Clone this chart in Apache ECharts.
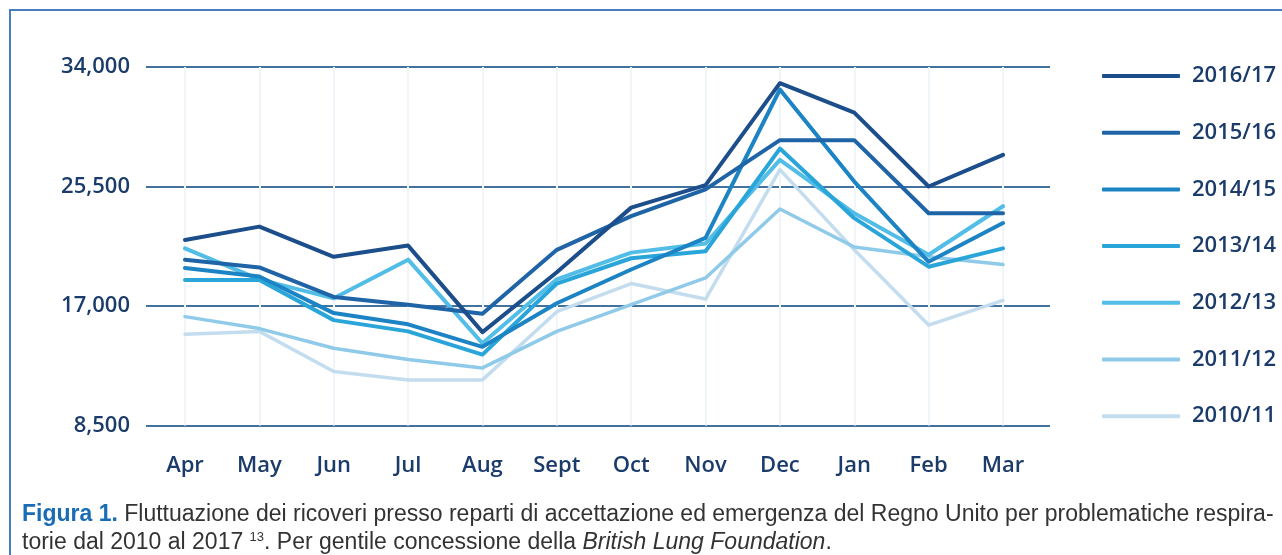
<!DOCTYPE html>
<html>
<head>
<meta charset="utf-8">
<script src="https://cdn.jsdelivr.net/npm/echarts@6/dist/echarts.min.js"></script>
<style>
html,body{margin:0;padding:0;background:#fff;}
#chart{width:1282px;height:555px;}
</style>
</head>
<body>
<div id="chart"></div>
<script>
const months = ['Apr','May','Jun','Jul','Aug','Sept','Oct','Nov','Dec','Jan','Feb','Mar'];
const yTickLabels = ['8,500','17,000','25,500','34,000'];
const seriesNames = ['2016/17','2015/16','2014/15','2013/14','2012/13','2011/12','2010/11'];

const s2016_17 = [21700, 22650, 20500, 21300, 15150, 19400, 24000, 25600, 32850, 30750, 25500, 27750];
const s2015_16 = [20300, 19750, 17650, 17100, 16450, 21000, 23400, 25300, 28800, 28800, 23600, 23600];
const s2014_15 = [19700, 19100, 16500, 15700, 14100, 17200, 19600, 21850, 32400, 25850, 20150, 22900];
const s2013_14 = [18850, 18850, 16000, 15200, 13550, 18600, 20400, 20900, 28200, 23250, 19800, 21100];
const s2012_13 = [21100, 18900, 17550, 20300, 14350, 18900, 20800, 21450, 27400, 23600, 20650, 24100];
const s2011_12 = [16250, 15400, 14000, 13200, 12600, 15200, 17100, 19000, 23900, 21200, 20500, 19950];
const s2010_11 = [15000, 15200, 12350, 11750, 11750, 16600, 18600, 17500, 26700, 21000, 15650, 17400];

const seriesData = [s2016_17, s2015_16, s2014_15, s2013_14, s2012_13, s2011_12, s2010_11];
const colors = ['#1b4e8a','#1e64a6','#1c83c4','#2aa5da','#52bde6','#8fcae8','#c3ddef'];
const widths = [4, 4, 4, 4, 4, 3.5, 3.5];

const chart = echarts.init(document.getElementById('chart'), null, {renderer:'canvas'});

const textColor = '#1b3c6b';
const font = 'Open Sans';

const series = [];
for (let i = seriesNames.length - 1; i >= 0; i--) {
  series.push({
    name: seriesNames[i],
    type: 'line',
    xAxisIndex: 1,
    yAxisIndex: 1,
    data: seriesData[i],
    symbol: 'none',
    smooth: false,
    color: colors[i],
    lineStyle: {width: widths[i], color: colors[i], cap: 'round', join: 'round'},
    z: 10 + (seriesNames.length - i)
  });
}

const option = {
  animation: false,
  backgroundColor: '#fff',
  grid: [
    {left: 146, right: 232, top: 67, bottom: 129.4, containLabel: false},
    {left: 185, right: 279, top: 67, bottom: 129.4, containLabel: false}
  ],
  xAxis: [
    {gridIndex: 0, type: 'value', min: 0, max: 1, show: false},
    {gridIndex: 1, type: 'category', data: months, boundaryGap: false,
     axisLine: {show: false}, axisTick: {show: false},
     axisLabel: {color: textColor, fontFamily: font, fontSize: 22, fontWeight: 600, margin: 29},
     splitLine: {show: true, lineStyle: {color: '#f0f5f9', width: 2}}}
  ],
  yAxis: [
    {gridIndex: 0, type: 'value', min: 8500, max: 34000, interval: 8500,
     axisLine: {show: false}, axisTick: {show: false},
     axisLabel: {color: textColor, fontFamily: font, fontSize: 22, fontWeight: 600, margin: 16,
       formatter: function (v) { return yTickLabels[Math.round((v - 8500) / 8500)]; }},
     splitLine: {show: true, lineStyle: {color: '#44729f', width: 2}}},
    {gridIndex: 1, type: 'value', min: 8500, max: 34000, interval: 8500, show: false,
     splitLine: {show: false}}
  ],
  legend: {
    data: seriesNames,
    orient: 'vertical',
    left: 1097,
    top: 60,
    itemWidth: 78,
    itemHeight: 4,
    itemGap: 34.7,
    icon: 'roundRect',
    textStyle: {color: textColor, fontFamily: font, fontSize: 22, fontWeight: 600, lineHeight: 22, padding: [0,0,0,7]}
  },
  series: series,
  graphic: [
    {type: 'rect', shape: {x: 10, y: 10, width: 1400, height: 700},
     style: {fill: 'none', stroke: '#4a7cc0', lineWidth: 2}, silent: true},
    {type: 'text', left: 22, top: 503,
     style: {text: '{b|Figura 1.} Fluttuazione dei ricoveri presso reparti di accettazione ed emergenza del Regno Unito per problematiche respira-',
       fill: '#333', fontFamily: 'Liberation Sans', fontSize: 23,
       rich: {b: {fill: '#1a6db5', fontWeight: 'bold', fontFamily: 'Liberation Sans', fontSize: 23}}}},
    {type: 'text', left: 22, top: 531,
     style: {text: 'torie dal 2010 al 2017 {s|13}. Per gentile concessione della {i|British Lung Foundation}.',
       fill: '#333', fontFamily: 'Liberation Sans', fontSize: 23,
       rich: {s: {fontSize: 13, fontFamily: 'Liberation Sans', fill: '#333', padding: [0,0,11,0]},
              i: {fontStyle: 'italic', fontFamily: 'Liberation Sans', fontSize: 23, fill: '#333'}}}}
  ]
};
chart.setOption(option);
</script>
</body>
</html>
